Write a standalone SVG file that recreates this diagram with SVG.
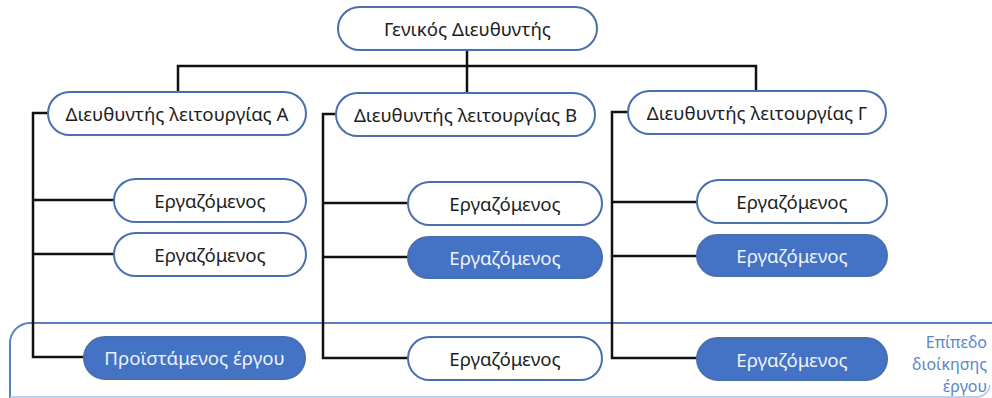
<svg xmlns="http://www.w3.org/2000/svg" width="992" height="398" viewBox="0 0 992 398">
  <style>
    .node rect { stroke: #4a6fae; stroke-width: 2; }
    .plain rect { fill: #ffffff; }
    .filled rect { fill: #4472c4; }
    .node text { font-family: "Noto Sans", "Open Sans", sans-serif; font-size: 18.7px; text-anchor: middle; dominant-baseline: central; }
    .plain text { fill: #1e1e1e; }
    .filled text { fill: #eef3fb; }
    .wire { fill: none; stroke: #111111; stroke-width: 2.5; }
    .level { fill: none; stroke: #5a7fc0; stroke-width: 2; }
    .level-label { font-family: "Noto Sans", "Open Sans", sans-serif; font-size: 16px; fill: #5b85c9; text-anchor: end; }
  </style>
  <rect width="992" height="398" fill="#ffffff"/>

  <!-- project management level band -->
  <g id="project-level">
    <path class="level" d="M992 323 H30 A20 20 0 0 0 10 343 V398"/>
    <path d="M10 397 H976 A14 14 0 0 0 990 385" fill="none" stroke="#a9c1e6" stroke-width="1.5"/>
    <text class="level-label" x="987" y="348">Επίπεδο</text>
    <text class="level-label" x="987" y="370">διοίκησης</text>
    <text class="level-label" x="987" y="392">έργου</text>
  </g>

  <!-- connectors -->
  <g id="connectors">
    <path class="wire" d="M467 50 V93"/>
    <path class="wire" d="M178 92 V66 H756 V92"/>
    <path class="wire" d="M48 113 H33 V357 H84"/>
    <path class="wire" d="M33 200 H114"/>
    <path class="wire" d="M33 254 H114"/>
    <path class="wire" d="M336 114 H323 V358 H408"/>
    <path class="wire" d="M323 203 H408"/>
    <path class="wire" d="M323 257 H408"/>
    <path class="wire" d="M628 112 H612 V358 H697"/>
    <path class="wire" d="M612 202 H697"/>
    <path class="wire" d="M612 256 H697"/>
  </g>

  <g id="general-director" class="node plain">
    <rect x="338" y="7" width="259" height="43" rx="21.5"/>
    <text x="467.5" y="28.5">Γενικός Διευθυντής</text>
  </g>

  <g id="director-a" class="node plain">
    <rect x="48" y="92" width="258" height="43" rx="21.5"/>
    <text x="177" y="113.5">Διευθυντής λειτουργίας Α</text>
  </g>
  <g id="director-b" class="node plain">
    <rect x="336" y="93" width="259" height="43" rx="21.5"/>
    <text x="465.5" y="114.5">Διευθυντής λειτουργίας Β</text>
  </g>
  <g id="director-c" class="node plain">
    <rect x="628" y="91" width="258" height="43" rx="21.5"/>
    <text x="757" y="112.5">Διευθυντής λειτουργίας Γ</text>
  </g>

  <g id="employee-a1" class="node plain">
    <rect x="114" y="179" width="192" height="43" rx="21.5"/>
    <text x="210" y="200">Εργαζόμενος</text>
  </g>
  <g id="employee-a2" class="node plain">
    <rect x="114" y="233" width="192" height="43" rx="21.5"/>
    <text x="210" y="254">Εργαζόμενος</text>
  </g>
  <g id="project-manager" class="node filled">
    <rect x="84" y="337" width="221" height="42" rx="21"/>
    <text x="194.5" y="357.5">Προϊστάμενος έργου</text>
  </g>

  <g id="employee-b1" class="node plain">
    <rect x="408" y="182" width="194" height="43" rx="21.5"/>
    <text x="505" y="203.5">Εργαζόμενος</text>
  </g>
  <g id="employee-b2" class="node filled">
    <rect x="408" y="237" width="194" height="41" rx="20.5"/>
    <text x="505" y="257">Εργαζόμενος</text>
  </g>
  <g id="employee-b3" class="node plain">
    <rect x="408" y="337" width="194" height="43" rx="21.5"/>
    <text x="505" y="358">Εργαζόμενος</text>
  </g>

  <g id="employee-c1" class="node plain">
    <rect x="697" y="180" width="190" height="43" rx="21.5"/>
    <text x="792" y="201">Εργαζόμενος</text>
  </g>
  <g id="employee-c2" class="node filled">
    <rect x="697" y="235" width="190" height="41" rx="20.5"/>
    <text x="792" y="255">Εργαζόμενος</text>
  </g>
  <g id="employee-c3" class="node filled">
    <rect x="697" y="338" width="190" height="42" rx="21"/>
    <text x="792" y="359">Εργαζόμενος</text>
  </g>
</svg>
